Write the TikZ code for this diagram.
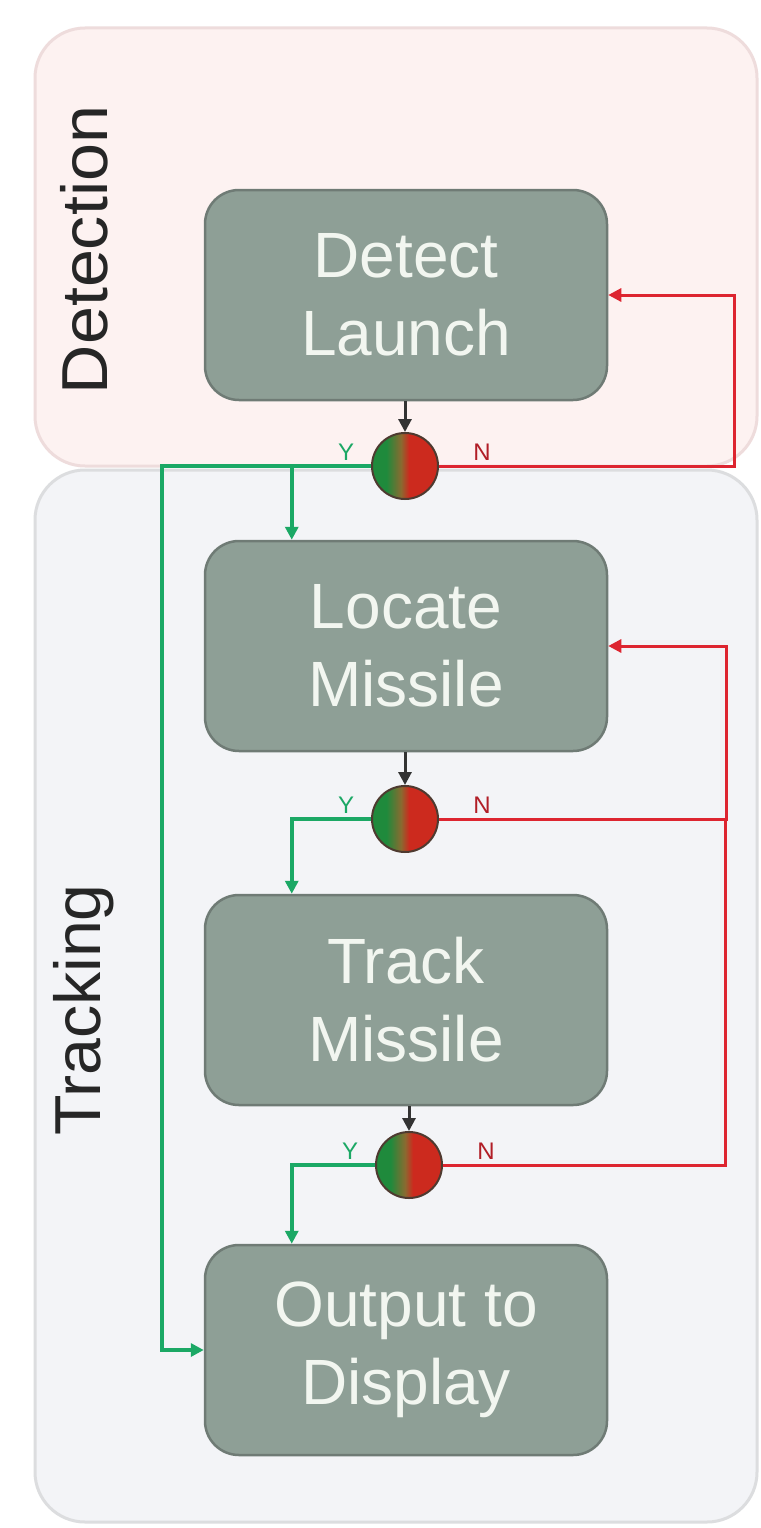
\documentclass[tikz,border=0pt]{standalone}
\usepackage{fontspec}
\setmainfont{Liberation Sans}
\usetikzlibrary{arrows.meta,positioning}

\definecolor{detfill}{HTML}{FDF2F1}
\definecolor{detedge}{HTML}{EEDCDC}
\definecolor{trkfill}{HTML}{F3F4F7}
\definecolor{trkedge}{HTML}{DCDDDF}
\definecolor{boxfill}{HTML}{8E9F96}
\definecolor{boxedge}{HTML}{6F7B75}
\definecolor{boxtext}{HTML}{F2F6F0}
\definecolor{yesgreen}{HTML}{1BA865}
\definecolor{nored}{HTML}{DD2530}
\definecolor{okgreen}{HTML}{1F8A3C}
\definecolor{midbrown}{HTML}{8A6A30}
\definecolor{badred}{HTML}{CC2A1E}
\definecolor{gateedge}{HTML}{4E3A30}

\pgfdeclarehorizontalshading{yesno}{100bp}{color(0bp)=(okgreen); color(36bp)=(okgreen); color(47bp)=(midbrown); color(53bp)=(badred); color(100bp)=(badred)}

\begin{document}
\begin{tikzpicture}[x=1pt,y=-1pt,
  stagebox/.style={draw=boxedge, fill=boxfill, line width=2.5pt, rounded corners=34pt,
    minimum width=402pt, minimum height=210pt, text=boxtext, align=center,
    font=\fontsize{64}{78}\selectfont},
  gate/.style={circle, draw=gateedge, line width=2pt, minimum size=66pt, inner sep=0pt, shading=yesno},
  stagelabel/.style={rotate=90, text=black!85, font=\fontsize{65}{70}\selectfont},
  yes/.style={draw=yesgreen, line width=3.5pt, -{Triangle[length=13pt,width=13pt]}},
  no/.style={draw=nored, line width=3pt, -{Triangle[length=13pt,width=13pt]}},
  feed/.style={draw=black!80, line width=3pt, -{Triangle[length=13pt,width=13pt]}},
  ylab/.style={text=yesgreen, font=\fontsize{24}{24}\selectfont},
  nlab/.style={text=nored!80!black, font=\fontsize{24}{24}\selectfont}]

  \useasboundingbox[fill=white] (0,0) rectangle (760,1528);

  % panels
  \draw[fill=detfill, draw=detedge, line width=3pt, rounded corners=50pt] (35,28) rectangle (757,466);
  \draw[fill=trkfill, draw=trkedge, line width=3pt, rounded corners=50pt] (35,470) rectangle (757,1522);
  \node[stagelabel] (detlabel) at (84,250) {\scalebox{1.05}[1]{Detection}};
  \node[stagelabel] (trklabel) at (84,1010) {\scalebox{1.02}[1]{Tracking}};

  % stages
  \node[stagebox] (det) at (406,295) {Detect\\Launch};
  \node[stagebox] (loc) at (406,646) {Locate\\Missile};
  \node[stagebox] (trk) at (406,1000) {Track\\Missile};
  \node[stagebox] (out) at (406,1350) {Output to\\Display};

  % decisions
  \node[gate] (g1) at (405,466) {};
  \node[gate] (g2) at (405,819) {};
  \node[gate] (g3) at (409,1165) {};

  \draw[feed] (det.south -| g1.north) -- (g1.north);
  \draw[feed] (loc.south -| g2.north) -- (g2.north);
  \draw[feed] (trk.south -| g3.north) -- (g3.north);

  % yes branches
  \path ([xshift=88pt]loc.north west) coordinate (tap1);
  \draw[yes] (g1.west) -- ++(-209,0) |- (out.west);
  \draw[yes] (tap1 |- g1.west) -- (tap1);
  \draw[yes] (g2.west) -| ([xshift=88pt]trk.north west);
  \draw[yes] (g3.west) -| ([xshift=88pt]out.north west);

  % no branches
  \draw[no] (g1.east) -- ++(295,0) |- (det.east);
  \draw[no] (g2.east) -- ++(287,0) |- (loc.east);
  \draw[no, -] (g3.east) -- ++(282,0) |- (g2.east);

  \node[ylab] (y1) at ([xshift=-25pt,yshift=14pt]g1.west) {Y};
  \node[nlab] (n1) at ([xshift=43pt,yshift=14pt]g1.east) {N};
  \node[ylab] (y2) at ([xshift=-25pt,yshift=14pt]g2.west) {Y};
  \node[nlab] (n2) at ([xshift=43pt,yshift=14pt]g2.east) {N};
  \node[ylab] (y3) at ([xshift=-25pt,yshift=14pt]g3.west) {Y};
  \node[nlab] (n3) at ([xshift=43pt,yshift=14pt]g3.east) {N};
\end{tikzpicture}
\end{document}
